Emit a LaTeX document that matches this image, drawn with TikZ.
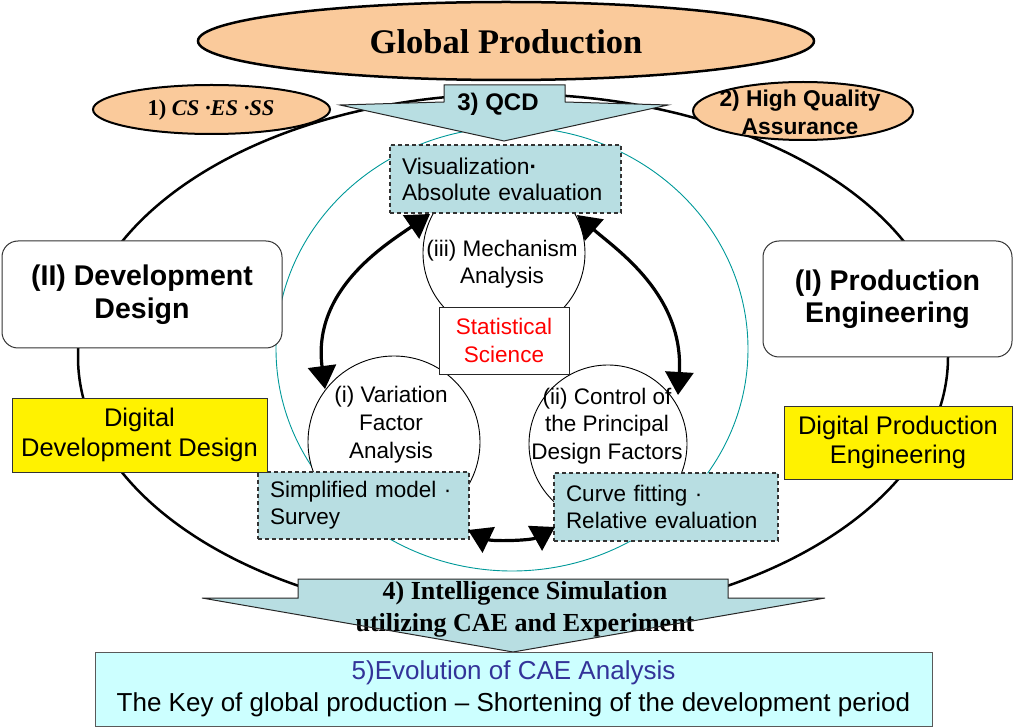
\documentclass[tikz,border=0pt]{standalone}
\usepackage{fontspec}
\setmainfont{Liberation Sans}
\newfontfamily\timesfont{Liberation Serif}
\usetikzlibrary{arrows.meta}
\definecolor{peach}{RGB}{250,202,155}
\definecolor{paleteal}{RGB}{184,222,226}
\definecolor{palecyan}{RGB}{204,255,255}
\definecolor{ringteal}{RGB}{0,153,153}
\definecolor{navytext}{RGB}{51,51,153}
\newcommand\fsz[2]{\fontsize{#1}{#2}\selectfont}

\begin{document}
\begin{tikzpicture}[x=1pt,y=-1pt,
  txt/.style={align=center, inner sep=0pt},
  softbox/.style={draw=black!80, line width=1pt, fill=white, rounded corners=16pt, align=center},
  yellowbox/.style={draw=black!80, line width=0.9pt, fill=yellow, align=center, inner sep=0pt},
  dashbox/.style={draw=black!80, line width=1.2pt, dash pattern=on 4pt off 3pt,
                  fill=paleteal, align=left, inner xsep=12pt, inner ysep=0pt},
  peachoval/.style={draw=black, fill=peach},
  arrowshape/.style={fill=paleteal},
  arrowedge/.style={draw=black!85, line width=1pt, line join=miter},
  swing/.style={line width=3.2pt, >={Triangle[length=23pt,width=28pt]}, <->},
]
\useasboundingbox (0,0) rectangle (1013,727);

% outer loop of the production cycle
\draw[line width=2.5pt] (513,357) ellipse [x radius=435pt, y radius=263pt];

% statistical science ring
\draw[ringteal, line width=0.9pt] (512,349) ellipse [x radius=236pt, y radius=222pt];

% the three analysis circles
\draw[line width=0.9pt, fill=white] (504,253) circle [radius=81pt];
\draw[line width=0.9pt, fill=white] (394,442) circle [radius=86pt];
\draw[line width=0.9pt, fill=white] (608,444) circle [radius=79pt];
\node[txt, font=\fsz{22.5}{27}] (mech) at (502,264) {(iii) Mechanism\\Analysis};
\node[txt, font=\fsz{22.5}{28}] (vari) at (391,425) {(i) Variation\\Factor\\Analysis};
\node[txt, font=\fsz{22.5}{27.5}] (ctrl) at (607,426) {(ii) Control of\\the Principal\\Design Factors};

% centre box
\node[draw=black!85, line width=0.9pt, fill=white, minimum width=130pt, minimum height=67pt,
      txt, text=red, font=\fsz{22.5}{28}] (stat) at (504,340.5) {Statistical\\Science};

% evaluation boxes
\node[dashbox, text width=207pt, minimum height=68pt, font=\fsz{22.8}{26}] (visu) at (505.5,179)
  {Visualization\textbf{·}\\Absolute evaluation};
\node[dashbox, text width=187pt, minimum height=67pt, font=\fsz{22.5}{27}] (simp) at (363.5,505.5)
  {Simplified model ·\\Survey};
\node[dashbox, text width=200pt, minimum height=68pt, font=\fsz{22.5}{27}] (curv) at (666,507)
  {Curve fitting ·\\Relative evaluation};

% ends of the cycle arrows
\coordinate (vl) at (430,214);
\coordinate (vr) at (577,215);
\coordinate (il) at (325,389);
\coordinate (ir) at (678,395);
\coordinate (sl) at (468,530);
\coordinate (cr) at (555,527);
\draw[swing] (vl) .. controls (385,245) and (312,290) .. (il);
\draw[swing] (vr) .. controls (617,250) and (684,295) .. (ir);
\draw[swing] (sl) .. controls (492,541.5) and (531,540.6) .. (cr);

% QCD arrow
\path[arrowshape] (444,85) -- (565,85) -- (565,102) -- (668,105) -- (504,141) -- (340,105) -- (444,102) -- cycle;
\node[txt, font=\fsz{24}{28}\bfseries] (qcd) at (498,104) {3) QCD};
\path[arrowedge] (444,85) -- (565,85) -- (565,102) -- (668,105) -- (504,141) -- (340,105) -- (444,102) -- cycle;

% headline oval
\draw[peachoval, line width=2.5pt] (506,41) ellipse [x radius=308pt, y radius=39pt];
\node[txt, font=\timesfont\fsz{34.5}{40}\bfseries] (glob) at (506,42) {Global Production};

% goal ovals
\draw[peachoval, line width=2pt] (211.5,109.5) ellipse [x radius=118.5pt, y radius=24.5pt];
\node[txt, font=\timesfont\fsz{22.5}{26}\bfseries] (cses) at (211,110) {1) \textit{CS ·ES ·SS}};
\draw[peachoval, line width=2pt] (803,111) ellipse [x radius=110pt, y radius=29pt];
\node[txt, font=\fsz{22.8}{28}\bfseries] (hqa) at (800,112) {2) High Quality\\Assurance};

% the two domains
\node[softbox, minimum width=280pt, minimum height=107pt, font=\fsz{28.5}{33}\bfseries] (devd) at (142,294.5)
  {(II) Development\\Design};
\node[softbox, minimum width=249pt, minimum height=116pt, font=\fsz{28.5}{32}\bfseries] (proe) at (887.5,299)
  {(I) Production\\Engineering};
\node[yellowbox, minimum width=255pt, minimum height=74pt, font=\fsz{25.5}{30}] (ddd) at (139.5,435)
  {Digital\\Development Design};
\node[yellowbox, minimum width=228pt, minimum height=73pt, font=\fsz{25.5}{29}] (dpe) at (898,442.5)
  {Digital Production\\Engineering};

% simulation arrow
\path[arrowshape] (298,579) -- (728,579) -- (728,598) -- (825,598) -- (513,652) -- (202,598) -- (298,598) -- cycle;
\node[txt, font=\timesfont\fsz{26}{32}\bfseries] (isim) at (525,609)
  {4) Intelligence Simulation\\utilizing CAE and Experiment};
\path[arrowedge] (298,579) -- (728,579) -- (728,598) -- (825,598) -- (513,652) -- (202,598) -- (298,598) -- cycle;

% conclusion box
\node[draw=black!65, line width=1pt, fill=palecyan, minimum width=837pt, minimum height=74pt,
      txt, font=\fsz{26}{32}] (evol) at (513.5,689)
  {\textcolor{navytext}{5)Evolution of CAE Analysis}\\The Key of global production -- Shortening of the development period};
\end{tikzpicture}
\end{document}
